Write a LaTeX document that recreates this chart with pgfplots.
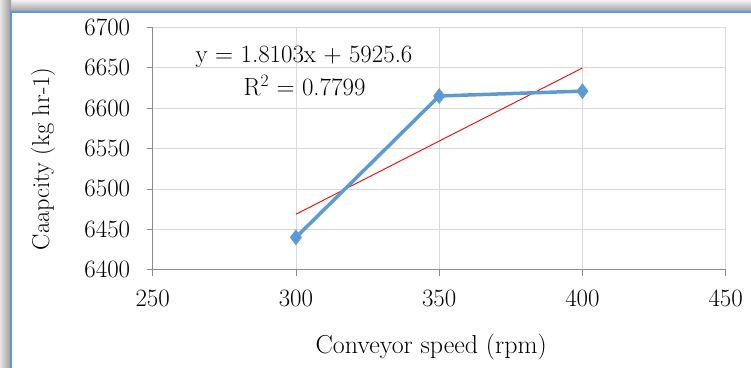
\documentclass[border=0pt]{standalone}
\usepackage{pgfplots}
\pgfplotsset{compat=1.18}
\definecolor{serblue}{RGB}{91,155,213}
\definecolor{gridgray}{RGB}{217,217,217}
\definecolor{axgray}{RGB}{140,140,140}
\begin{document}
\begin{tikzpicture}[x=1bp,y=1bp]
\useasboundingbox (0,0) rectangle (751,367);
\begin{scope}
\clip (0,0) rectangle (751,367);
\shade[top color=white!95!black, bottom color=white!60!black] (0,355) rectangle (751,367);
\shade[left color=white!90!black, right color=white!60!black] (0,0) rectangle (11,367);
\fill[white] (11,-5) rectangle (760,355);
\draw[serblue, line width=1.5bp] (11,-5) -- (11,355) -- (760,355);
\end{scope}
\begin{axis}[
  at={(152.7bp,97.3bp)}, anchor=south west,
  scale only axis, width=573bp, height=242.4bp,
  xmin=250, xmax=450, ymin=6400, ymax=6700,
  xtick={250,300,...,450}, ytick={6400,6450,...,6700},
  grid=major, grid style={gridgray, line width=0.8bp},
  axis x line*=bottom, axis y line*=left,
  axis line style={axgray, line width=1bp},
  tick align=outside, major tick length=6bp,
  tick style={axgray, line width=0.8bp},
  /pgf/number format/assume math mode=true,
  /pgf/number format/1000 sep={},
  tick label style={font=\fontsize{25}{28}\selectfont, text=black},
  yticklabel style={anchor=east, xshift=-13bp},
  xticklabel style={anchor=north, yshift=-11bp},
  xlabel={Conveyor speed (rpm)},
  ylabel={Caapcity (kg hr-1)},
  xlabel style={at={(axis description cs:0.486,-0.318)}, anchor=center, font=\fontsize{26}{29}\selectfont, text=black},
  ylabel style={at={(axis description cs:-0.1915,0.457)}, anchor=center, font=\fontsize{24.5}{28}\selectfont, text=black},
  clip=false,
]
\addplot[red, line width=0.9bp] coordinates {(300,6468.7) (400,6649.7)};
\addplot[serblue, line width=3.5bp, mark=diamond*, mark size=7.5bp,
  mark options={fill=serblue, solid, line width=0.5bp}] coordinates {(300,6440) (350,6615) (400,6621)};
\node[font=\fontsize{25}{28}\selectfont] at (axis description cs:0.264,0.877) {y = 1.8103x + 5925.6};
\node[font=\fontsize{25}{28}\selectfont] at (axis description cs:0.265,0.762) {R\textsuperscript{2} = 0.7799};
\end{axis}
\end{tikzpicture}
\end{document}
